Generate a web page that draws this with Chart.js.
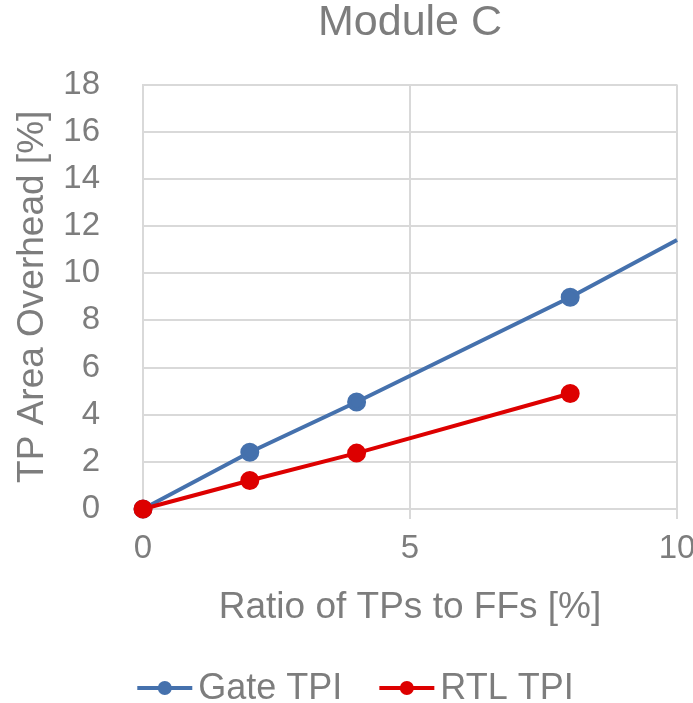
<!DOCTYPE html>
<html>
<head>
<meta charset="utf-8">
<script src="https://cdn.jsdelivr.net/npm/chart.js@4/dist/chart.umd.min.js"></script>
<style>
  html, body { margin: 0; padding: 0; background: #fff; }
  #wrap { width: 693px; height: 703px; }
</style>
</head>
<body>
<div id="wrap"><canvas id="chart" width="693" height="703"></canvas></div>
<script>
// TP ratio (%) vs area overhead (%)
const gateX = [0, 2, 4, 8, 10];
const gateY = [0, 2.41, 4.54, 8.98, 11.41];
const gateRadius = [7.5, 7.5, 7.5, 7.5, 0]; // last point only carries the line to the edge
const rtlX = [0, 2, 4, 8];
const rtlY = [0, 1.21, 2.37, 4.9];

const textColor = '#7d7d7d';
const gridColor = '#d9d9d9';
const fontFamily = '"Liberation Sans", Arial, sans-serif';
const colors = { gate: '#4571ad', rtl: '#dd0000' };

// Excel-style legend under the chart: line with a dot, then the label
const bottomLegend = {
    id: 'bottomLegend',
    afterDraw(chart) {
        const ctx = chart.ctx;
        const items = chart.data.datasets.map(ds => ({ text: ds.label, color: ds.borderColor }));
        const markW = 55, gap = 6, spacing = 37;
        ctx.save();
        ctx.font = '36px ' + fontFamily;
        ctx.textBaseline = 'middle';
        let total = 0;
        items.forEach((it, i) => {
            it.w = ctx.measureText(it.text).width;
            total += markW + gap + it.w + (i ? spacing : 0);
        });
        let x = chart.width / 2 + 9 - total / 2;
        const y = 688;
        items.forEach(it => {
            ctx.strokeStyle = it.color;
            ctx.fillStyle = it.color;
            ctx.lineWidth = 4;
            ctx.beginPath();
            ctx.moveTo(x, y);
            ctx.lineTo(x + markW, y);
            ctx.stroke();
            ctx.beginPath();
            ctx.arc(x + markW / 2, y, 7, 0, Math.PI * 2);
            ctx.fill();
            ctx.fillStyle = textColor;
            ctx.fillText(it.text, x + markW + gap, y + 1);
            x += markW + gap + it.w + spacing;
        });
        ctx.restore();
    }
};

new Chart(document.getElementById('chart').getContext('2d'), {
    type: 'scatter',
    data: {
        datasets: [
            {
                label: 'Gate TPI',
                data: gateX.map((x, i) => ({ x: x, y: gateY[i] })),
                borderColor: colors.gate,
                backgroundColor: colors.gate,
                pointRadius: gateRadius,
                pointHoverRadius: gateRadius,
                borderWidth: 4,
                showLine: true,
                clip: false,
                order: 1
            },
            {
                label: 'RTL TPI',
                data: rtlX.map((x, i) => ({ x: x, y: rtlY[i] })),
                borderColor: colors.rtl,
                backgroundColor: colors.rtl,
                pointRadius: 7.5,
                pointHoverRadius: 7.5,
                borderWidth: 4,
                showLine: true,
                clip: false,
                order: 0
            }
        ]
    },
    plugins: [bottomLegend],
    options: {
        responsive: false,
        animation: false,
        layout: { padding: { left: 0, right: 0, top: 0, bottom: 69 } },
        plugins: {
            title: {
                display: true,
                fullSize: false,
                text: 'Module C',
                color: textColor,
                font: { family: fontFamily, size: 43, weight: 'normal' },
                padding: { top: -3, bottom: 36 }
            },
            legend: { display: false },
            tooltip: { enabled: false }
        },
        scales: {
            x: {
                type: 'linear',
                min: 0,
                max: 10,
                ticks: {
                    stepSize: 5,
                    color: textColor,
                    font: { family: fontFamily, size: 33 },
                    padding: 10
                },
                grid: { color: gridColor, lineWidth: 2, tickLength: 10 },
                border: { color: gridColor, width: 2 },
                title: {
                    display: true,
                    text: 'Ratio of TPs to FFs [%]',
                    color: textColor,
                    font: { family: fontFamily, size: 37 },
                    padding: { top: 0, bottom: 4 }
                },
                afterFit: scale => {
                    scale.height = 125;
                    scale.paddingRight = 16; // let the "10" label run to the canvas edge
                }
            },
            y: {
                min: 0,
                max: 18,
                ticks: {
                    stepSize: 2,
                    color: textColor,
                    font: { family: fontFamily, size: 33 },
                    padding: 43
                },
                grid: { color: gridColor, lineWidth: 2, drawTicks: false },
                border: { color: gridColor, width: 2 },
                title: {
                    display: true,
                    text: 'TP Area Overhead [%]',
                    color: textColor,
                    font: { family: fontFamily, size: 37 },
                    padding: { top: 11, bottom: 0 }
                },
                afterFit: scale => { scale.width = 143; }
            }
        }
    }
});
</script>
</body>
</html>
